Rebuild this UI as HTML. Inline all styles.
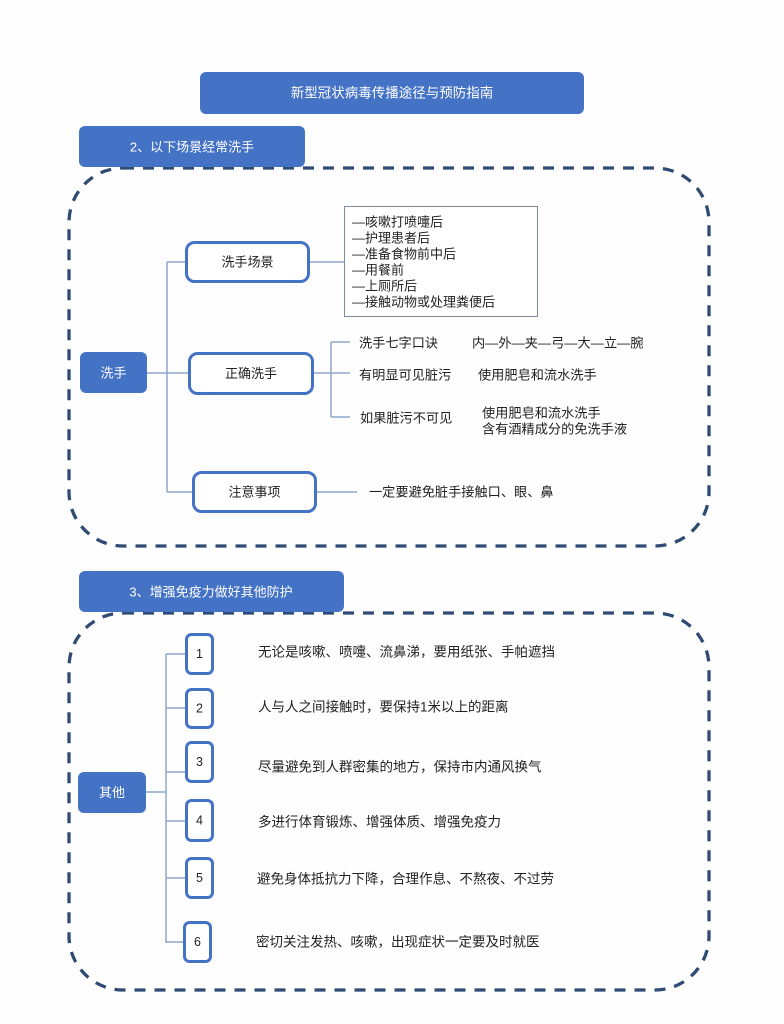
<!DOCTYPE html>
<html>
<head>
<meta charset="utf-8">
<style>
  html,body{margin:0;padding:0;background:#fefefe;}
  svg{display:block;}
  text{font-family:"Liberation Sans","Noto Sans CJK SC","WenQuanYi Zen Hei",sans-serif;}
</style>
</head>
<body>
<svg width="784" height="1024" viewBox="0 0 784 1024" xmlns="http://www.w3.org/2000/svg">
  <rect x="0" y="0" width="784" height="1024" fill="#fefefe"/>

  <!-- Title -->
  <rect x="200" y="72" width="384" height="42" rx="6" fill="#4472C4"/>
  <text x="392" y="93" font-size="13.5" fill="#ffffff" text-anchor="middle" dominant-baseline="central">新型冠状病毒传播途径与预防指南</text>

  <!-- Section 2 dashed container -->
  <rect x="69" y="168" width="640" height="378" rx="54" ry="54" fill="none" stroke="#2F4B73" stroke-width="3.3" stroke-dasharray="11 9"/>
  <!-- Section 2 header -->
  <rect x="79" y="126" width="226" height="41" rx="6" fill="#4472C4"/>
  <text x="192" y="147" font-size="13" fill="#ffffff" text-anchor="middle" dominant-baseline="central">2、以下场景经常洗手</text>

  <!-- connectors section 2 -->
  <g stroke="#8EA5C8" stroke-width="1.5" fill="none">
    <line x1="147" y1="373" x2="188" y2="373"/>
    <line x1="167" y1="262" x2="167" y2="492"/>
    <line x1="167" y1="262" x2="185" y2="262"/>
    <line x1="167" y1="492" x2="192" y2="492"/>
    <line x1="310" y1="262" x2="344" y2="262"/>
    <line x1="314" y1="373" x2="350" y2="373"/>
    <line x1="331" y1="342" x2="331" y2="417"/>
    <line x1="331" y1="342" x2="350" y2="342"/>
    <line x1="331" y1="417" x2="350" y2="417"/>
    <line x1="317" y1="492" x2="357" y2="492"/>
  </g>

  <!-- 洗手 root -->
  <rect x="80" y="352" width="67" height="41" rx="6" fill="#4472C4"/>
  <text x="113.5" y="373" font-size="13" fill="#ffffff" text-anchor="middle" dominant-baseline="central">洗手</text>

  <!-- 洗手场景 -->
  <rect x="186.5" y="242.5" width="122" height="39" rx="8" fill="#ffffff" stroke="#4472C4" stroke-width="3"/>
  <text x="247.5" y="262" font-size="13" fill="#222" text-anchor="middle" dominant-baseline="central">洗手场景</text>

  <!-- list box -->
  <rect x="344.5" y="206.5" width="193" height="110" fill="#ffffff" stroke="#7f8a99" stroke-width="1"/>
  <g font-size="13" fill="#222" dominant-baseline="central">
    <text x="352" y="222">—咳嗽打喷嚏后</text>
    <text x="352" y="238">—护理患者后</text>
    <text x="352" y="254">—准备食物前中后</text>
    <text x="352" y="270">—用餐前</text>
    <text x="352" y="286">—上厕所后</text>
    <text x="352" y="302">—接触动物或处理粪便后</text>
  </g>

  <!-- 正确洗手 -->
  <rect x="189.5" y="353.5" width="123" height="40" rx="8" fill="#ffffff" stroke="#4472C4" stroke-width="3"/>
  <text x="251" y="373.5" font-size="13" fill="#222" text-anchor="middle" dominant-baseline="central">正确洗手</text>

  <g font-size="13.2" fill="#222" dominant-baseline="central">
    <text x="359" y="343">洗手七字口诀</text>
    <text x="472" y="343">内—外—夹—弓—大—立—腕</text>
    <text x="359" y="375">有明显可见脏污</text>
    <text x="478" y="375">使用肥皂和流水洗手</text>
    <text x="360" y="418">如果脏污不可见</text>
    <text x="482" y="413">使用肥皂和流水洗手</text>
    <text x="482" y="429">含有酒精成分的免洗手液</text>
    <text x="369" y="492">一定要避免脏手接触口、眼、鼻</text>
  </g>

  <!-- 注意事项 -->
  <rect x="193.5" y="472.5" width="122" height="39" rx="8" fill="#ffffff" stroke="#4472C4" stroke-width="3"/>
  <text x="254.5" y="492" font-size="13" fill="#222" text-anchor="middle" dominant-baseline="central">注意事项</text>

  <!-- Section 3 dashed container -->
  <rect x="69" y="613" width="640" height="377" rx="54" ry="54" fill="none" stroke="#2F4B73" stroke-width="3.3" stroke-dasharray="11 9"/>
  <!-- Section 3 header -->
  <rect x="79" y="571" width="265" height="41" rx="6" fill="#4472C4"/>
  <text x="211" y="592" font-size="13" fill="#ffffff" text-anchor="middle" dominant-baseline="central">3、增强免疫力做好其他防护</text>

  <!-- connectors section 3 -->
  <g stroke="#8EA5C8" stroke-width="1.5" fill="none">
    <line x1="166" y1="654" x2="166" y2="943"/>
    <line x1="146" y1="792" x2="166" y2="792"/>
    <line x1="166" y1="654" x2="185" y2="654"/>
    <line x1="166" y1="708" x2="185" y2="708"/>
    <line x1="166" y1="772" x2="185" y2="772"/>
    <line x1="166" y1="821" x2="185" y2="821"/>
    <line x1="166" y1="878" x2="185" y2="878"/>
    <line x1="166" y1="942" x2="183" y2="942"/>
  </g>

  <!-- 其他 -->
  <rect x="78" y="772" width="68" height="41" rx="6" fill="#4472C4"/>
  <text x="112" y="792.5" font-size="13" fill="#ffffff" text-anchor="middle" dominant-baseline="central">其他</text>

  <!-- number boxes -->
  <g fill="#ffffff" stroke="#4472C4" stroke-width="3">
    <rect x="186.5" y="634.5" width="26" height="39" rx="5"/>
    <rect x="186.5" y="689.5" width="26" height="38" rx="5"/>
    <rect x="186.5" y="742.5" width="26" height="39" rx="5"/>
    <rect x="186.5" y="800.5" width="26" height="40" rx="5"/>
    <rect x="186.5" y="858.5" width="26" height="39" rx="5"/>
    <rect x="184.5" y="922.5" width="26" height="39" rx="5"/>
  </g>
  <g font-size="12.5" fill="#222" text-anchor="middle" dominant-baseline="central">
    <text x="199.5" y="654">1</text>
    <text x="199.5" y="708.5">2</text>
    <text x="199.5" y="762">3</text>
    <text x="199.5" y="820.5">4</text>
    <text x="199.5" y="878">5</text>
    <text x="197.5" y="942">6</text>
  </g>

  <g font-size="13.5" fill="#222" dominant-baseline="central">
    <text x="258" y="652">无论是咳嗽、喷嚏、流鼻涕，要用纸张、手帕遮挡</text>
    <text x="258" y="707">人与人之间接触时，要保持1米以上的距离</text>
    <text x="258" y="767">尽量避免到人群密集的地方，保持市内通风换气</text>
    <text x="258" y="822">多进行体育锻炼、增强体质、增强免疫力</text>
    <text x="257" y="879">避免身体抵抗力下降，合理作息、不熬夜、不过劳</text>
    <text x="256" y="942">密切关注发热、咳嗽，出现症状一定要及时就医</text>
  </g>
</svg>
</body>
</html>
